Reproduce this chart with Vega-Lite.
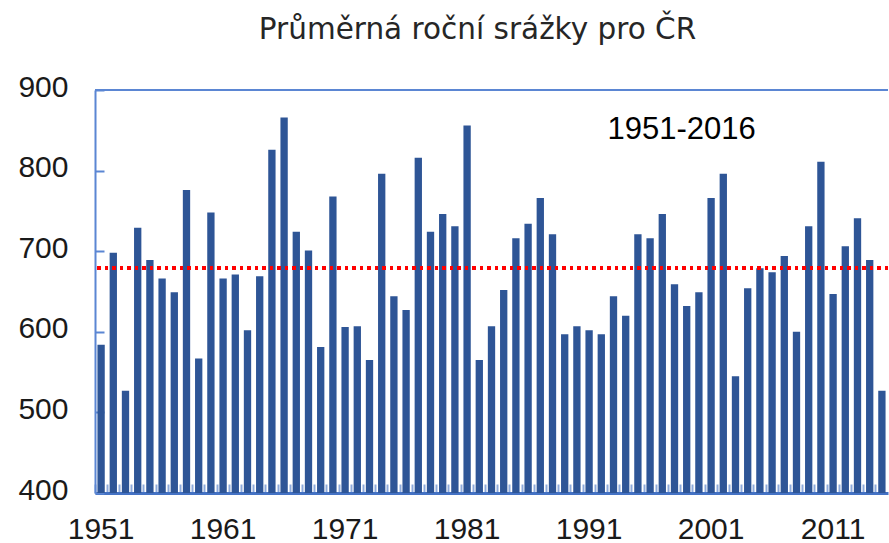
{
  "$schema": "https://vega.github.io/schema/vega-lite/v6.json",
  "width": 793,
  "height": 403,
  "autosize": "none",
  "padding": {"left": 95, "top": 90, "right": 1, "bottom": 50},
  "background": "white",
  "title": {"text": "Průměrná roční srážky pro ČR", "font": "DejaVu Sans", "fontSize": 29.5, "fontWeight": "normal", "color": "#262626", "offset": 27, "dx": -14},
  "config": {
    "view": {"stroke": null},
    "axis": {"grid": false, "labelFont": "Liberation Sans", "labelFontSize": 30, "labelColor": "#1a1a1a", "title": null}
  },
  "data": {"values": [
    {"year": 1951, "value": 584}, {"year": 1952, "value": 698}, {"year": 1953, "value": 527}, {"year": 1954, "value": 729},
    {"year": 1955, "value": 689}, {"year": 1956, "value": 666}, {"year": 1957, "value": 649}, {"year": 1958, "value": 776},
    {"year": 1959, "value": 567}, {"year": 1960, "value": 748}, {"year": 1961, "value": 666}, {"year": 1962, "value": 671},
    {"year": 1963, "value": 602}, {"year": 1964, "value": 669}, {"year": 1965, "value": 826}, {"year": 1966, "value": 866},
    {"year": 1967, "value": 724}, {"year": 1968, "value": 701}, {"year": 1969, "value": 581}, {"year": 1970, "value": 768},
    {"year": 1971, "value": 606}, {"year": 1972, "value": 607}, {"year": 1973, "value": 565}, {"year": 1974, "value": 796},
    {"year": 1975, "value": 644}, {"year": 1976, "value": 627}, {"year": 1977, "value": 816}, {"year": 1978, "value": 724},
    {"year": 1979, "value": 746}, {"year": 1980, "value": 731}, {"year": 1981, "value": 856}, {"year": 1982, "value": 565},
    {"year": 1983, "value": 607}, {"year": 1984, "value": 652}, {"year": 1985, "value": 716}, {"year": 1986, "value": 734},
    {"year": 1987, "value": 766}, {"year": 1988, "value": 721}, {"year": 1989, "value": 597}, {"year": 1990, "value": 607},
    {"year": 1991, "value": 602}, {"year": 1992, "value": 597}, {"year": 1993, "value": 644}, {"year": 1994, "value": 620},
    {"year": 1995, "value": 721}, {"year": 1996, "value": 716}, {"year": 1997, "value": 746}, {"year": 1998, "value": 659},
    {"year": 1999, "value": 632}, {"year": 2000, "value": 649}, {"year": 2001, "value": 766}, {"year": 2002, "value": 796},
    {"year": 2003, "value": 545}, {"year": 2004, "value": 654}, {"year": 2005, "value": 679}, {"year": 2006, "value": 674},
    {"year": 2007, "value": 694}, {"year": 2008, "value": 600}, {"year": 2009, "value": 731}, {"year": 2010, "value": 811},
    {"year": 2011, "value": 647}, {"year": 2012, "value": 706}, {"year": 2013, "value": 741}, {"year": 2014, "value": 689},
    {"year": 2015, "value": 527}
  ]},
  "layer": [
    {
      "mark": {"type": "bar", "color": "#2E5596", "clip": true},
      "encoding": {
        "x": {
          "field": "year", "type": "ordinal",
          "scale": {"paddingInner": 0.4, "paddingOuter": 0.2},
          "axis": {
            "labelAngle": 0,
            "labelExpr": "(datum.value - 1951) % 10 === 0 ? datum.value : ''",
            "labelBaseline": "top",
            "labelPadding": 30,
            "domainColor": "#4472C4",
            "domainWidth": 3,
            "tickColor": "#8EAADB",
            "tickSize": -9,
            "tickWidth": 2,
            "bandPosition": -0.333
          }
        },
        "y": {
          "field": "value", "type": "quantitative",
          "scale": {"domain": [400, 900], "nice": false, "zero": false},
          "axis": {
            "values": [400, 500, 600, 700, 800, 900],
            "domainColor": "#5B86D3",
            "domainWidth": 2,
            "tickColor": "#5B86D3",
            "tickSize": -9,
            "tickWidth": 2,
            "labelPadding": 36,
            "labelOffset": -3
          }
        }
      }
    },
    {
      "mark": {"type": "rule", "color": "#5B86D3", "strokeWidth": 2},
      "encoding": {"y": {"datum": 900}}
    },
    {
      "mark": {"type": "rule", "color": "#FF0000", "strokeWidth": 3, "strokeDash": [3, 4.5]},
      "encoding": {"y": {"datum": 679}}
    },
    {
      "data": {"values": [{"year": 1993, "value": 850, "label": "1951-2016"}]},
      "mark": {"type": "text", "align": "left", "baseline": "middle", "font": "Liberation Sans", "fontSize": 31, "color": "#000000", "dx": -6},
      "encoding": {
        "x": {"field": "year", "type": "ordinal"},
        "y": {"field": "value", "type": "quantitative"},
        "text": {"field": "label"}
      }
    }
  ]
}
